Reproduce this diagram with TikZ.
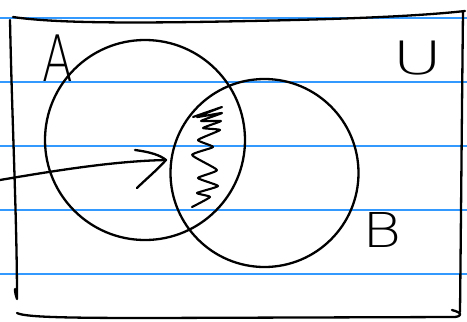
\documentclass[tikz,border=0pt]{standalone}
\usepackage{fontspec}
\newfontfamily\handfont{DejaVu Sans ExtraLight}
\definecolor{ruleblue}{RGB}{51,153,255}
\tikzset{
  ink/.style={line width=2.3pt, black, line cap=round, line join=round},
  paperrule/.style={line width=1.4pt, ruleblue},
  setcircle/.style={circle, draw, ink, inner sep=0pt},
  setname/.style={inner sep=0pt, font=\handfont}
}
\begin{document}
\begin{tikzpicture}[x=1pt,y=-1pt]
\useasboundingbox (0,0) rectangle (467,322);
% ruled paper
\foreach \yy in {18,82,146,210,274}
  \draw[paperrule] (0,\yy) -- (467,\yy);
% universal set frame
\draw[ink] (13,17) .. controls (60,24) and (150,23) .. (250,21) .. controls (350,19) and (420,16) .. (465,11);
\draw[ink] (10,20) .. controls (12,120) and (17,220) .. (17,299) .. controls (16,296) and (15,293) .. (15,289);
\draw[ink] (17,313) .. controls (25,317) and (60,318) .. (150,318) -- (455,317) .. controls (462,316) and (463,313) .. (452,310);
\draw[ink] (463,12) .. controls (462,100) and (461,220) .. (460,312);
% sets
\node[setcircle, minimum size=200pt] (A) at (145,140) {};
\node[setcircle, minimum size=188pt] (B) at (264.5,173) {};
% labels
\node[setname, font=\handfont\fontsize{64}{64}\selectfont, xscale=0.7] (lA) at (58,58) {A};
\node[setname, font=\handfont\fontsize{46}{46}\selectfont, xscale=1.5] (lU) at (418,58) {U};
\node[setname, font=\handfont\fontsize{48}{48}\selectfont, xscale=1.25] (lB) at (382,230) {B};
% shading of the intersection
\draw[ink, line width=2.1pt] plot[smooth, tension=0.3] coordinates {
 (193,117) (222,107) (197,117) (222,113) (201,121) (221,121) (203,128)
 (220,130) (198,140) (213,147) (192,155) (217,170) (198,178) (218,186)
 (197,193) (210,197) (192,207)};
% arrow pointing at the intersection
\coordinate (start) at (0,180);
\coordinate (tip) at (166,160);
\draw[ink] (start) .. controls (70,168) and (120,161) .. (tip);
\draw[ink] (135,150) .. controls (150,152) and (160,155) .. (tip) .. controls (155,172) and (145,180) .. (137,188);
\end{tikzpicture}
\end{document}
